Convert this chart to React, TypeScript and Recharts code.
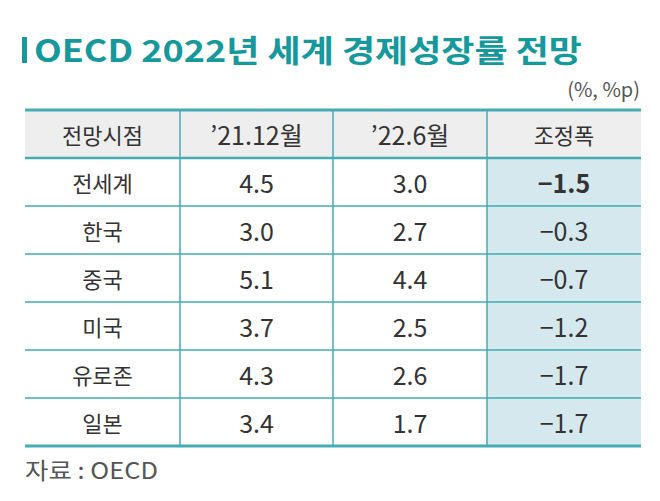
import { BarChart, Bar, XAxis, YAxis, Customized } from 'recharts'

const regions = ['전세계', '한국', '중국', '미국', '유로존', '일본']
const dec21 = [4.5, 3.0, 5.1, 3.7, 4.3, 3.4]
const jun22 = [3.0, 2.7, 4.4, 2.5, 2.6, 1.7]
const diff = [-1.5, -0.3, -0.7, -1.2, -1.7, -1.7]
const headers = ['전망시점', '’21.12월', '’22.6월', '조정폭']

const rows = regions.map((name, i) => ({
  name,
  dec21: dec21[i],
  jun22: jun22[i],
  diff: diff[i],
  bar: 1,
}))

const TEAL = '#16989c'
const LINE = '#45acb3'
const CELL = '#d4e8ee'
const TEXT = '#333333'
const FONT = '"Noto Sans CJK KR", "Noto Sans", sans-serif'
const NARROW = '"Liberation Sans Narrow", "Noto Sans CJK KR", sans-serif'
// column edges
const COLS = [25, 180, 333, 487, 641]

const fmt = (v: number) => (v < 0 ? '−' + Math.abs(v).toFixed(1) : v.toFixed(1))

const Cell = ({ x, y, text, korean, bold }: any) => (
  <text
    x={x}
    y={y}
    textAnchor="middle"
    dominantBaseline="central"
    fontSize={korean ? 22 : 25}
    fontWeight={bold ? 700 : 400}
    fill={TEXT}
    fontFamily={korean ? FONT : NARROW}
  >
    {text}
  </text>
)

// one table row, positioned by the category band of the y axis
const RowShape = (props: any) => {
  const { y, height, payload, index } = props
  const cy = y + height / 2
  const cells = [payload.name, fmt(payload.dec21), fmt(payload.jun22), fmt(payload.diff)]
  const last = index === rows.length - 1
  return (
    <g>
      <rect x={COLS[3]} y={y} width={COLS[4] - COLS[3]} height={height} fill={CELL} />
      {index === 0 && (
        <g>
          <rect x={COLS[0]} y={y - height} width={COLS[4] - COLS[0]} height={height} fill="#eeeeee" />
          {headers.map((h, c) => (
            <Cell
              key={h}
              x={(COLS[c] + COLS[c + 1]) / 2}
              y={y - height / 2}
              text={h}
              korean={c === 0 || c === 3}
            />
          ))}
          <line x1={COLS[0]} x2={COLS[4]} y1={y - height} y2={y - height} stroke={LINE} strokeWidth={3} />
          {COLS.slice(1, 4).map((cx) => (
            <line key={cx} x1={cx} x2={cx} y1={y - height} y2={y} stroke={LINE} strokeWidth={1.5} />
          ))}
        </g>
      )}
      {cells.map((t, c) => (
        <Cell
          key={c}
          x={(COLS[c] + COLS[c + 1]) / 2}
          y={cy}
          text={t}
          korean={c === 0}
          bold={c === 3 && index === 0}
        />
      ))}
      {COLS.slice(1, 4).map((cx) => (
        <line key={cx} x1={cx} x2={cx} y1={y} y2={y + height} stroke={LINE} strokeWidth={1.5} />
      ))}
      <line
        x1={COLS[0]}
        x2={COLS[4]}
        y1={y}
        y2={y}
        stroke={LINE}
        strokeWidth={index === 0 ? 2.5 : 1.5}
      />
      {last && (
        <line x1={COLS[0]} x2={COLS[4]} y1={y + height} y2={y + height} stroke={LINE} strokeWidth={3} />
      )}
    </g>
  )
}

const Decor = () => (
  <g fontFamily={FONT}>
    <rect x={22} y={37} width={5} height={26} fill={TEAL} />
    <text
      x={34}
      y={62}
      fontSize={31}
      fontWeight={700}
      fill={TEAL}
      fontFamily={NARROW}
      textLength={548}
      lengthAdjust="spacingAndGlyphs"
    >
      OECD 2022년 세계 경제성장률 전망
    </text>
    <text x={640} y={97} textAnchor="end" fontSize={20} fill="#555555" fontFamily={NARROW}>
      (%, %p)
    </text>
    <text x={25} y={479} fontSize={23} fill="#555555" fontFamily={NARROW} textLength={133} lengthAdjust="spacingAndGlyphs">
      자료 : OECD
    </text>
  </g>
)

export default function App() {
  return (
    <div style={{ position: 'absolute', left: 0, top: 0, width: 660, height: 501, background: '#fff' }}>
      <BarChart
        width={660}
        height={501}
        data={rows}
        layout="vertical"
        barCategoryGap={0}
        margin={{ top: 158, right: 19, bottom: 55, left: 25 }}
      >
        <XAxis type="number" hide domain={[0, 1]} />
        <YAxis type="category" dataKey="name" hide width={0} />
        <Bar dataKey="bar" shape={RowShape} isAnimationActive={false} />
        <Customized component={Decor} />
      </BarChart>
    </div>
  )
}
